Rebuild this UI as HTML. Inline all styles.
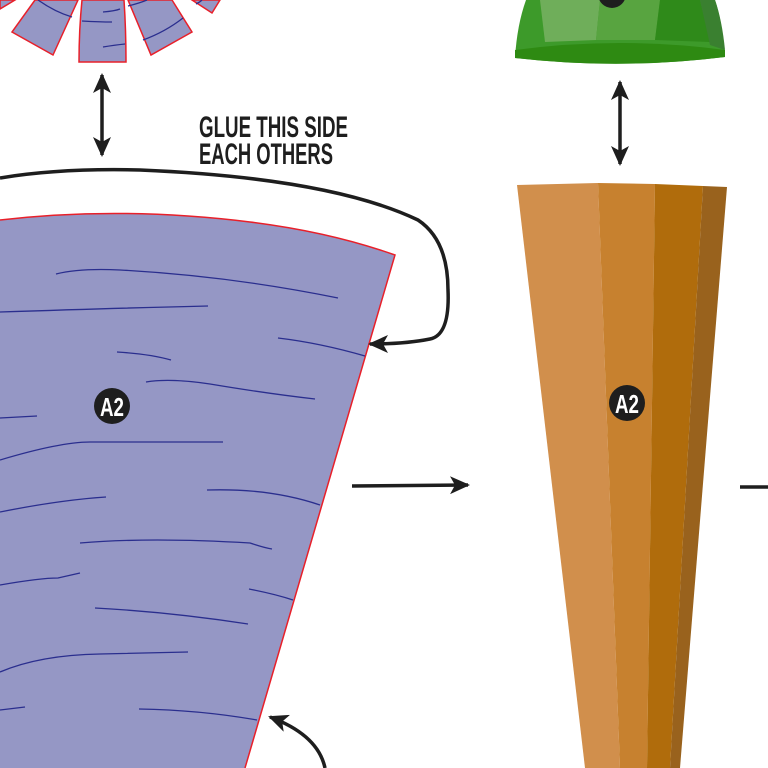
<!DOCTYPE html>
<html><head><meta charset="utf-8"><style>
html,body{margin:0;padding:0;background:#fff;}
svg{display:block;}
</style></head><body>
<svg width="768" height="768" viewBox="0 0 768 768" xmlns="http://www.w3.org/2000/svg">
<defs>
<marker id="ah" viewBox="0 0 20 18" refX="18" refY="9" markerWidth="20" markerHeight="18" orient="auto-start-reverse" markerUnits="userSpaceOnUse">
<path d="M0,0 L20,9 L0,18 L5,9 Z" fill="#1e1e1e"/></marker>
</defs>
<!-- fan pieces top-left -->
<g fill="#9597c5" stroke="#e8202a" stroke-width="1.5">
<path d="M0,0 L15,0 L0,9 Z"/>
<path d="M35,0 L78,0 L53,55 L12,32 Z"/>
<path d="M82,0 L124,0 Q126,30 126,62 L79,62 Q79,30 82,0 Z"/>
<path d="M128,0 L172,0 L192,32 L151,55 Z"/>
<path d="M192,0 L220,0 L212,13 Z"/>
</g>
<g fill="none" stroke="#2a2e8e" stroke-width="1.3">
<path d="M38,0 Q55,12 72,17"/>
<path d="M103,12 Q115,11 120,9"/>
<path d="M82,21 Q100,22 112,22"/>
<path d="M103,47 Q115,45 125,44"/>
<path d="M128,6 Q140,3 147,0"/>
<path d="M143,40 Q165,32 183,18"/>
<path d="M196,4 Q200,2 202,0"/>
</g>
<!-- big blue piece -->
<path d="M0,220 Q120,206 250,222 Q330,232 395,255 L245,768 L0,768 Z" fill="#9597c5"/>
<path d="M0,220 Q120,206 250,222 Q330,232 395,255 L245,768" fill="none" stroke="#e8202a" stroke-width="1.5"/>
<g fill="none" stroke="#2a2e8e" stroke-width="1.3">
<path d="M56,274 Q80,268 120,270 Q230,276 338,298"/>
<path d="M0,312 Q120,308 208,306"/>
<path d="M278,338 Q320,343 365,356"/>
<path d="M117,352 Q150,354 171,360"/>
<path d="M146,382 Q170,378 210,384 Q270,394 315,399"/>
<path d="M0,418 L37,416"/>
<path d="M0,460 Q60,442 90,442 L223,442"/>
<path d="M0,512 Q60,500 106,497"/>
<path d="M207,490 Q270,488 320,505"/>
<path d="M80,543 Q150,537 250,543 Q265,548 272,549"/>
<path d="M0,585 Q40,578 58,578 L80,573"/>
<path d="M249,589 Q275,594 293,600"/>
<path d="M95,608 Q170,612 248,624"/>
<path d="M0,672 Q40,655 100,654 L188,652"/>
<path d="M0,710 L25,707"/>
<path d="M139,709 Q200,710 257,720"/>
</g>
<circle cx="112" cy="406" r="18" fill="#1e1e1e"/>
<text x="100" y="416" textLength="24" lengthAdjust="spacingAndGlyphs" font-family="Liberation Sans, sans-serif" font-weight="bold" font-size="26" fill="#fff">A2</text>
<!-- arrows -->
<line x1="102" y1="75" x2="102" y2="155" stroke="#1e1e1e" stroke-width="3.5" marker-start="url(#ah)" marker-end="url(#ah)"/>
<line x1="620" y1="82" x2="620" y2="164" stroke="#1e1e1e" stroke-width="3.5" marker-start="url(#ah)" marker-end="url(#ah)"/>
<path d="M0,178 Q60,168 140,170 Q330,178 418,220 Q448,240 448,290 Q450,335 430,339 Q405,344 370,344" fill="none" stroke="#1e1e1e" stroke-width="3.5" marker-end="url(#ah)"/>
<line x1="352" y1="486" x2="468" y2="485" stroke="#1e1e1e" stroke-width="3.5" marker-end="url(#ah)"/>
<line x1="740" y1="487" x2="768" y2="487" stroke="#1e1e1e" stroke-width="3.5"/>
<path d="M325,768 Q318,735 270,717" fill="none" stroke="#1e1e1e" stroke-width="3.5" marker-end="url(#ah)"/>
<text font-family="Liberation Sans, sans-serif" font-weight="bold" font-size="30" fill="#1e1e1e"><tspan x="199" y="137" textLength="149" lengthAdjust="spacingAndGlyphs">GLUE THIS SIDE</tspan></text>
<text font-family="Liberation Sans, sans-serif" font-weight="bold" font-size="30" fill="#1e1e1e"><tspan x="199" y="164" textLength="134" lengthAdjust="spacingAndGlyphs">EACH OTHERS</tspan></text>
<!-- green dome -->
<path d="M526,0 L715,0 Q722,20 725,57 Q620,70 515,58 Q517,25 526,0 Z" fill="#3d9a2a"/>
<path d="M540,0 L600,0 L596,40 L545,42 Z" fill="#6fae5a"/>
<path d="M600,0 L660,0 L655,40 L596,40 Z" fill="#58a440"/>
<path d="M660,0 L700,0 L710,42 L655,40 Z" fill="#2f8a1a"/>
<path d="M700,0 L715,0 Q722,20 725,50 L710,45 Z" fill="#3a8030"/>
<path d="M515,50 Q620,36 725,50 L725,57 Q620,70 515,58 Z" fill="#2e8a12"/>
<circle cx="612" cy="-6" r="14" fill="#1e1e1e"/>
<!-- carrot -->
<path d="M517,185 L598,183 L620,768 L585,768 Z" fill="#d18f4c"/>
<path d="M598,183 L655,184 L647,768 L620,768 Z" fill="#c7812f"/>
<path d="M655,184 L703,186 L670,768 L647,768 Z" fill="#b06c0c"/>
<path d="M703,186 L727,187 L680,768 L670,768 Z" fill="#99621d"/>
<circle cx="627" cy="403" r="18" fill="#1e1e1e"/>
<text x="615" y="413" textLength="24" lengthAdjust="spacingAndGlyphs" font-family="Liberation Sans, sans-serif" font-weight="bold" font-size="26" fill="#fff">A2</text>
</svg>
</body></html>
